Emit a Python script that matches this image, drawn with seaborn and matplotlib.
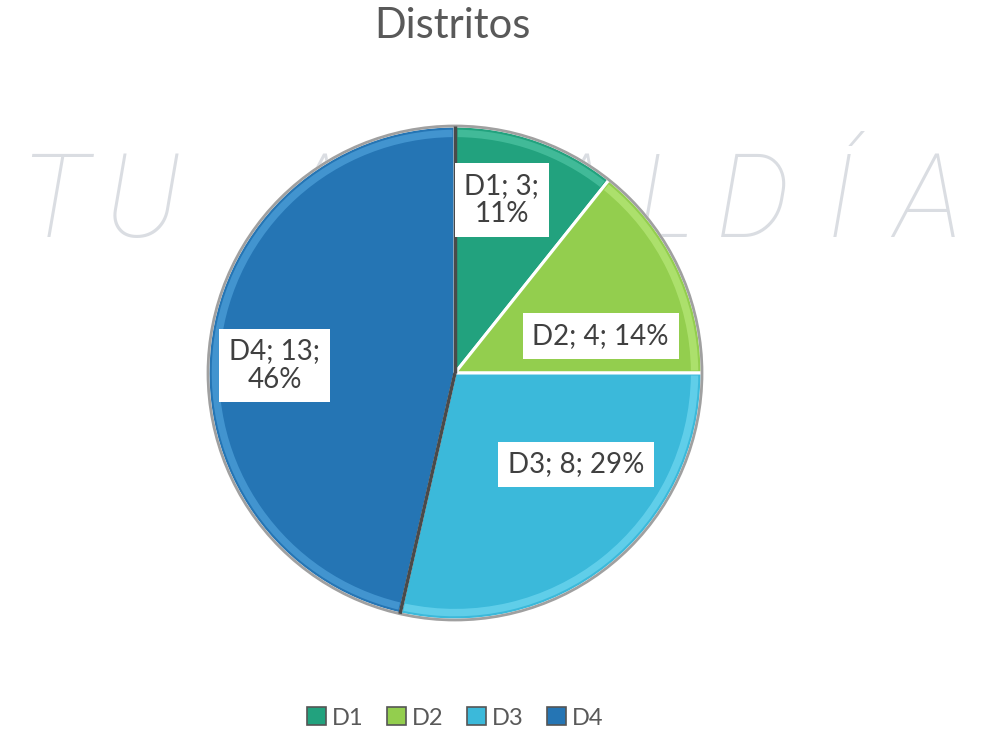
import numpy as np
import seaborn as sns
import matplotlib.pyplot as plt
from matplotlib.patches import Wedge, Patch

# data
districts = ["D1", "D2", "D3", "D4"]
counts = [3, 4, 8, 13]
pct_labels = ["11%", "14%", "29%", "46%"]
colors = ["#22a27e", "#93ce4e", "#3bb9da", "#2575b4"]
rim_colors = ["#5ccfae", "#c2ef86", "#7fe0f7", "#5aaee6"]
watermark = "TU ALCALDÍA"
title = "Distritos"

# label text layout (line break where the box wraps) and label spots in axis units
label_texts = ["D1; 3;\n11%", "D2; 4; 14%", "D3; 8; 29%", "D4; 13;\n46%"]
label_pos = [(0.19, 0.70), (0.59, 0.15), (0.49, -0.37), (-0.73, 0.03)]

sns.set_theme(style="white")
plt.rcParams['font.family'] = ['Lato', 'DejaVu Sans']

W, H = 990, 732
fig = plt.figure(figsize=(W / 100, H / 100), dpi=100)
fig.patch.set_facecolor("white")

# pie geometry in pixels: centre (455, 373), radius 247
px_cx, px_cy, r = 455, 373, 247

# watermark letters, spread out behind the pie
# (letters that sit wholly behind the pie are never seen, so skip them)
step = 87.4
top_y = 153
half = np.sqrt(r ** 2 - (px_cy - top_y) ** 2)
for i, ch in enumerate(watermark):
    x = 54 + i * step
    if ch == " " or (x - 35 > px_cx - half and x + 35 < px_cx + half):
        continue
    fig.text(x / W, 1 - 237 / H, ch, ha="center", va="baseline",
             fontsize=84, color="#dadde2", family=["Roboto", "DejaVu Sans"],
             fontweight="light", fontstyle="italic", zorder=-5)

cx, cy = px_cx / W, 1 - px_cy / H
ext = 1.1
ax = fig.add_axes([cx - ext * r / W, cy - ext * r / H, 2 * ext * r / W, 2 * ext * r / H])
ax.patch.set_alpha(0)

wedges, _ = ax.pie(counts, colors=colors, startangle=90, counterclock=False,
                   radius=1.0,
                   wedgeprops=dict(edgecolor="white", linewidth=2.2))

# bevel-like rim highlight and outer shadow line
for w, rc in zip(wedges, rim_colors):
    rim = Wedge((0, 0), 0.985, w.theta1 + 0.6, w.theta2 - 0.6, width=0.03,
                facecolor=rc, edgecolor="none", alpha=0.55, zorder=3)
    ax.add_patch(rim)
ax.add_patch(plt.Circle((0, 0), 1.0, fill=False, edgecolor="#a0a0a0",
                        linewidth=2, zorder=4))
# dark shadow edges along the D4 slice
for ang in [wedges[3].theta1, wedges[3].theta2]:
    a = np.deg2rad(ang)
    ax.plot([0, np.cos(a)], [0, np.sin(a)], color="#4a4a4a", linewidth=2.5,
            zorder=4, solid_capstyle="butt")

for txt, (x, y) in zip(label_texts, label_pos):
    ax.text(x, y, txt, ha="center", va="center", fontsize=20, color="#404040",
            linespacing=1.1, zorder=6,
            bbox=dict(boxstyle="square,pad=0.35", facecolor="white", edgecolor="none"))

ax.set_xlim(-ext, ext)
ax.set_ylim(-ext, ext)
ax.set_aspect("equal")
ax.axis("off")

fig.text(452 / W, 1 - 38 / H, title, ha="center", va="baseline",
         fontsize=30, color="#595959")

handles = [Patch(facecolor=c, edgecolor="#555555", linewidth=1.2) for c in colors]
fig.legend(handles, districts, loc="center", bbox_to_anchor=(455 / W, 14 / H),
           ncol=4, frameon=False, fontsize=17, labelcolor="#595959",
           handlelength=0.8, handleheight=0.8, handletextpad=0.25,
           columnspacing=1.0)

fig.savefig("out.png", dpi=100)
